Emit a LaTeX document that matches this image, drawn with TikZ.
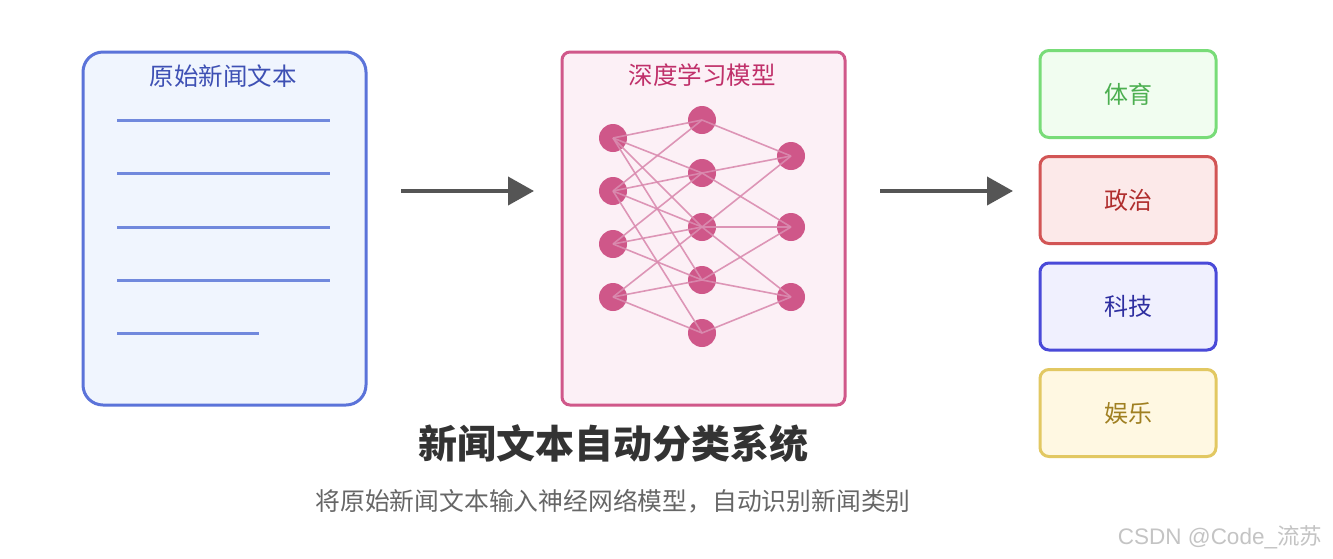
\documentclass[tikz,border=0pt]{standalone}
\usepackage{fontspec}
\setmainfont{Noto Sans CJK SC}
\newfontfamily\cjk{Noto Sans CJK SC}
\newfontfamily\wmlatin{Liberation Sans}
\usetikzlibrary{arrows.meta}
\definecolor{srcfill}{HTML}{F0F5FE}
\definecolor{srcdraw}{HTML}{5B73D9}
\definecolor{srctext}{HTML}{3E50B4}
\definecolor{srcline}{HTML}{7189DD}
\definecolor{dlfill}{HTML}{FCF0F6}
\definecolor{dldraw}{HTML}{D0588A}
\definecolor{dltext}{HTML}{C0306A}
\definecolor{dlnode}{HTML}{CF5789}
\definecolor{dledge}{HTML}{DA8CB0}
\definecolor{arrowc}{HTML}{555555}
\definecolor{gfill}{HTML}{F1FDF0}
\definecolor{gdraw}{HTML}{78DC78}
\definecolor{gtext}{HTML}{4CAF50}
\definecolor{rfill}{HTML}{FCE9E9}
\definecolor{rdraw}{HTML}{D25555}
\definecolor{rtext}{HTML}{B02E2E}
\definecolor{bfill}{HTML}{F0F0FE}
\definecolor{bdraw}{HTML}{4A4AD8}
\definecolor{btext}{HTML}{2E2EA0}
\definecolor{yfill}{HTML}{FFF8E2}
\definecolor{ydraw}{HTML}{E2C862}
\definecolor{ytext}{HTML}{A08022}
\definecolor{titlec}{HTML}{333333}
\definecolor{subc}{HTML}{666666}
\definecolor{wmc}{HTML}{C4C4C4}
\tikzset{
  bigbox/.style={line width=3pt, minimum width=283pt, minimum height=353pt, anchor=north west, inner sep=0pt},
  catbox/.style={line width=3pt, rounded corners=9pt, minimum width=176pt, minimum height=87pt, inner sep=0pt, font=\fontsize{24}{28}\selectfont},
  boxtitle/.style={font=\fontsize{24.5}{28}\selectfont, inner sep=0pt},
  txtline/.style={draw=srcline, line width=3pt},
  neuron/.style={circle, fill=dlnode, minimum size=28pt, inner sep=0pt},
  synapse/.style={draw=dledge, line width=1.6pt, opacity=0.9},
  bigarrow/.style={draw=arrowc, line width=4pt, -{Triangle[length=26pt,width=28pt]}}
}
\begin{document}
\begin{tikzpicture}[x=1pt,y=-1pt]
\useasboundingbox (0,0) rectangle (1333,558);
\fill[white] (0,0) rectangle (1333,558);

% source text box
\node[bigbox, draw=srcdraw, fill=srcfill, rounded corners=20pt] (src) at (81.5,50.5) {};
\node[boxtitle, text=srctext] (srct) at (223,76) {原始新闻文本};
\foreach \i/\y/\xe in {1/120/330, 2/173/330, 3/227/330, 4/280/330, 5/333/259} {
  \coordinate (ls\i) at (117,\y);
  \coordinate (le\i) at (\xe,\y);
  \draw[txtline] (ls\i) -- (le\i);
}

% model box
\node[bigbox, draw=dldraw, fill=dlfill, rounded corners=8pt] (dl) at (560.5,50.5) {};
\node[boxtitle, text=dltext] (dlt) at (702,75) {深度学习模型};

% neurons
\foreach \i/\y in {1/138, 2/191, 3/244, 4/297} { \node[neuron] (i\i) at (613,\y) {}; }
\foreach \i/\y in {1/120, 2/173, 3/227, 4/280, 5/333} { \node[neuron] (h\i) at (702,\y) {}; }
\foreach \i/\y in {1/156, 2/227, 3/297} { \node[neuron] (o\i) at (791,\y) {}; }

% connections
\foreach \a/\b in {1/1,1/2,1/3,1/4, 2/1,2/2,2/3,2/5, 3/2,3/3,3/4, 4/3,4/4,4/5} {
  \draw[synapse] (i\a.center) -- (h\b.center);
}
\foreach \a/\b in {1/1, 2/1,2/2, 3/1,3/2,3/3, 4/2,4/3, 5/3} {
  \draw[synapse] (h\a.center) -- (o\b.center);
}

% arrows
\coordinate (a1s) at (401,191);
\coordinate (a1e) at (534,191);
\draw[bigarrow] (a1s) -- (a1e);
\coordinate (a2s) at (880,191);
\coordinate (a2e) at (1013,191);
\draw[bigarrow] (a2s) -- (a2e);

% categories
\node[catbox, draw=gdraw, fill=gfill, text=gtext] (sport) at (1128,94) {体育};
\node[catbox, draw=rdraw, fill=rfill, text=rtext] (poli) at (1128,200) {政治};
\node[catbox, draw=bdraw, fill=bfill, text=btext] (tech) at (1128,306.5) {科技};
\node[catbox, draw=ydraw, fill=yfill, text=ytext] (ent) at (1128,413) {娱乐};

% titles
\node[inner sep=0pt, text=titlec, font=\fontsize{39}{45}\selectfont\bfseries] (title) at (613,444) {新闻文本自动分类系统};
\node[inner sep=0pt, text=subc, font=\fontsize{24.8}{28}\selectfont] (sub) at (613,501) {将原始新闻文本输入神经网络模型，自动识别新闻类别};

% watermark
\node[inner sep=0pt, text=wmc, font=\fontsize{22.5}{26}\selectfont] (wm) at (1220,537) {{\wmlatin CSDN @Code\_}流苏};
\end{tikzpicture}
\end{document}
